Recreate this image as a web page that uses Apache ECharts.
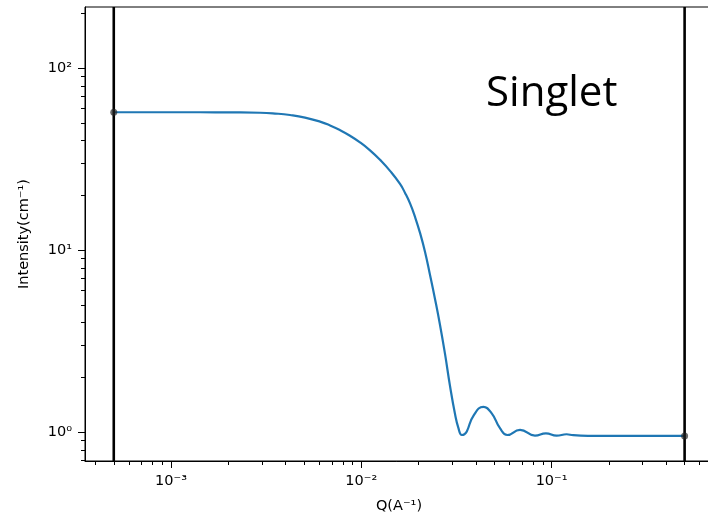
<!DOCTYPE html>
<html><head><meta charset="utf-8">
<script src="https://cdn.jsdelivr.net/npm/echarts@6/dist/echarts.min.js"></script>
<style>html,body{margin:0;padding:0;background:#fff}#c{width:708px;height:522px}</style>
</head><body><div id="c"></div><script>
// ---- data ----
const qValues = [5.0e-4, 1.0e-3, 1.42e-3, 2.04e-3, 2.936e-3, 3.52e-3, 4.22e-3, 5.06e-3, 6.07e-3, 6.85e-3, 7.73e-3, 8.72e-3, 9.84e-3, 0.01111, 0.01254, 0.01415, 0.01597, 0.016975, 0.01803, 0.01915, 0.020345, 0.02162, 0.022963, 0.024389, 0.025914, 0.02753, 0.029245, 0.031071, 0.03236, 0.03373, 0.03480, 0.03583, 0.03882, 0.04380, 0.04845, 0.05354, 0.05851, 0.06823, 0.08180, 0.09333, 0.1062, 0.1199, 0.1300, 0.1600, 0.2000, 0.3000, 0.5000];
const intensity = [57.3, 57.3, 57.3, 57.2, 56.95, 56.38, 55.33, 53.57, 50.88, 48.50, 45.70, 42.57, 39.16, 35.40, 31.39, 27.31, 23.13, 20.65, 18.08, 15.24, 12.45, 9.787, 7.315, 5.40, 3.887, 2.693, 1.796, 1.260, 1.056, 0.966, 0.975, 1.01, 1.23, 1.38, 1.27, 1.053, 0.966, 1.03, 0.958, 0.987, 0.958, 0.975, 0.963, 0.956, 0.955, 0.955, 0.955];
const endpointQ = [5.0e-4, 0.5];
const endpointI = [57.3, 0.955];
const vLines = [5.0e-4, 0.5];
const xTickValues = [1e-3, 1e-2, 1e-1];
const xTickLabels = ['10\u207B\u00B3', '10\u207B\u00B2', '10\u207B\u00B9'];
const yTickValues = [1, 10, 100];
const yTickLabels = ['10\u2070', '10\u00B9', '10\u00B2'];
const xRange = [3.53e-4, 0.705];
const yRange = [0.695, 217];
const xName = 'Q(A\u207B\u00B9)';
const yName = 'Intensity(cm\u207B\u00B9)';
const annotation = 'Singlet';

function minorLogs(lo, hi) {
  const out = [];
  for (let e = Math.floor(Math.log10(lo)); e <= Math.ceil(Math.log10(hi)); e++) {
    for (let k = 2; k <= 9; k++) {
      const v = k * Math.pow(10, e);
      if (v >= lo && v <= hi) out.push(Math.log10(v));
    }
  }
  return out;
}
function labelFor(values, labels) {
  return function (v) {
    for (let i = 0; i < values.length; i++) if (Math.abs(Math.log10(values[i]) - v) < 1e-6) return labels[i];
    return '';
  };
}
const FONT = 'DejaVu Sans';
const chart = echarts.init(document.getElementById('c'), null, {renderer: 'canvas'});
const lx = xRange.map(Math.log10), ly = yRange.map(Math.log10);
const vLineSeries = vLines.map(v => ({
  type: 'line', xAxisIndex: 0, yAxisIndex: 0, z: 3, silent: true,
  data: [[v, yRange[0]], [v, yRange[1]]], showSymbol: false,
  lineStyle: {color: '#000', width: 2.6}
}));
chart.setOption({
  animation: false,
  backgroundColor: '#fff',
  grid: {left: 85, top: 7, width: 628, height: 454, outerBoundsMode: 'none', containLabel: false,
    show: true, borderColor: '#000', borderWidth: 1, backgroundColor: 'transparent'},
  xAxis: [
    {type: 'log', logBase: 10, min: xRange[0], max: xRange[1], position: 'bottom',
     axisLine: {show: true, onZero: false, lineStyle: {color: '#000', width: 1}},
     axisTick: {show: false}, axisLabel: {show: false}, splitLine: {show: false},
     name: xName, nameLocation: 'middle', nameGap: 38,
     nameTextStyle: {fontFamily: FONT, fontSize: 14.5, color: '#000'}},
    {type: 'value', min: lx[0], max: lx[1], position: 'bottom',
     axisLine: {show: false, onZero: false}, splitLine: {show: false},
     axisTick: {show: true, length: 7, lineStyle: {color: '#000', width: 1}, customValues: xTickValues.map(Math.log10)},
     axisLabel: {show: true, margin: 13, fontFamily: FONT, fontSize: 14.5, color: '#000',
       customValues: xTickValues.map(Math.log10), formatter: labelFor(xTickValues, xTickLabels)}},
    {type: 'value', min: lx[0], max: lx[1], position: 'bottom',
     axisLine: {show: false, onZero: false}, splitLine: {show: false},
     axisTick: {show: true, length: 4, lineStyle: {color: '#000', width: 1}, customValues: minorLogs(xRange[0], xRange[1])},
     axisLabel: {show: false}}
  ],
  yAxis: [
    {type: 'log', logBase: 10, min: yRange[0], max: yRange[1], position: 'left',
     axisLine: {show: true, onZero: false, lineStyle: {color: '#000', width: 1}},
     axisTick: {show: false}, axisLabel: {show: false}, splitLine: {show: false},
     name: yName, nameLocation: 'middle', nameGap: 53, nameRotate: 90,
     nameTextStyle: {fontFamily: FONT, fontSize: 14.5, color: '#000'}},
    {type: 'value', min: ly[0], max: ly[1], position: 'left',
     axisLine: {show: false, onZero: false}, splitLine: {show: false},
     axisTick: {show: true, length: 7, lineStyle: {color: '#000', width: 1}, customValues: yTickValues.map(Math.log10)},
     axisLabel: {show: true, margin: 13, fontFamily: FONT, fontSize: 14.5, color: '#000',
       customValues: yTickValues.map(Math.log10), formatter: labelFor(yTickValues, yTickLabels)}},
    {type: 'value', min: ly[0], max: ly[1], position: 'left',
     axisLine: {show: false, onZero: false}, splitLine: {show: false},
     axisTick: {show: true, length: 4, lineStyle: {color: '#000', width: 1}, customValues: minorLogs(yRange[0], yRange[1])},
     axisLabel: {show: false}}
  ],
  graphic: [{type: 'text', left: 486, top: 73, z: 10,
    style: {text: annotation, font: '42px "Open Sans"', fill: '#000'}}],
  series: [
    {type: 'line', xAxisIndex: 0, yAxisIndex: 0, z: 2,
     data: qValues.map((q, i) => [q, intensity[i]]),
     showSymbol: false, smooth: 0.5,
     lineStyle: {color: '#1f77b4', width: 2.2}},
    ...vLineSeries,
    {type: 'scatter', xAxisIndex: 0, yAxisIndex: 0, z: 4,
     data: endpointQ.map((q, i) => [q, endpointI[i]]),
     symbolSize: 7, itemStyle: {color: 'rgba(35,35,35,0.85)'}}
  ]
});
</script></body></html>
